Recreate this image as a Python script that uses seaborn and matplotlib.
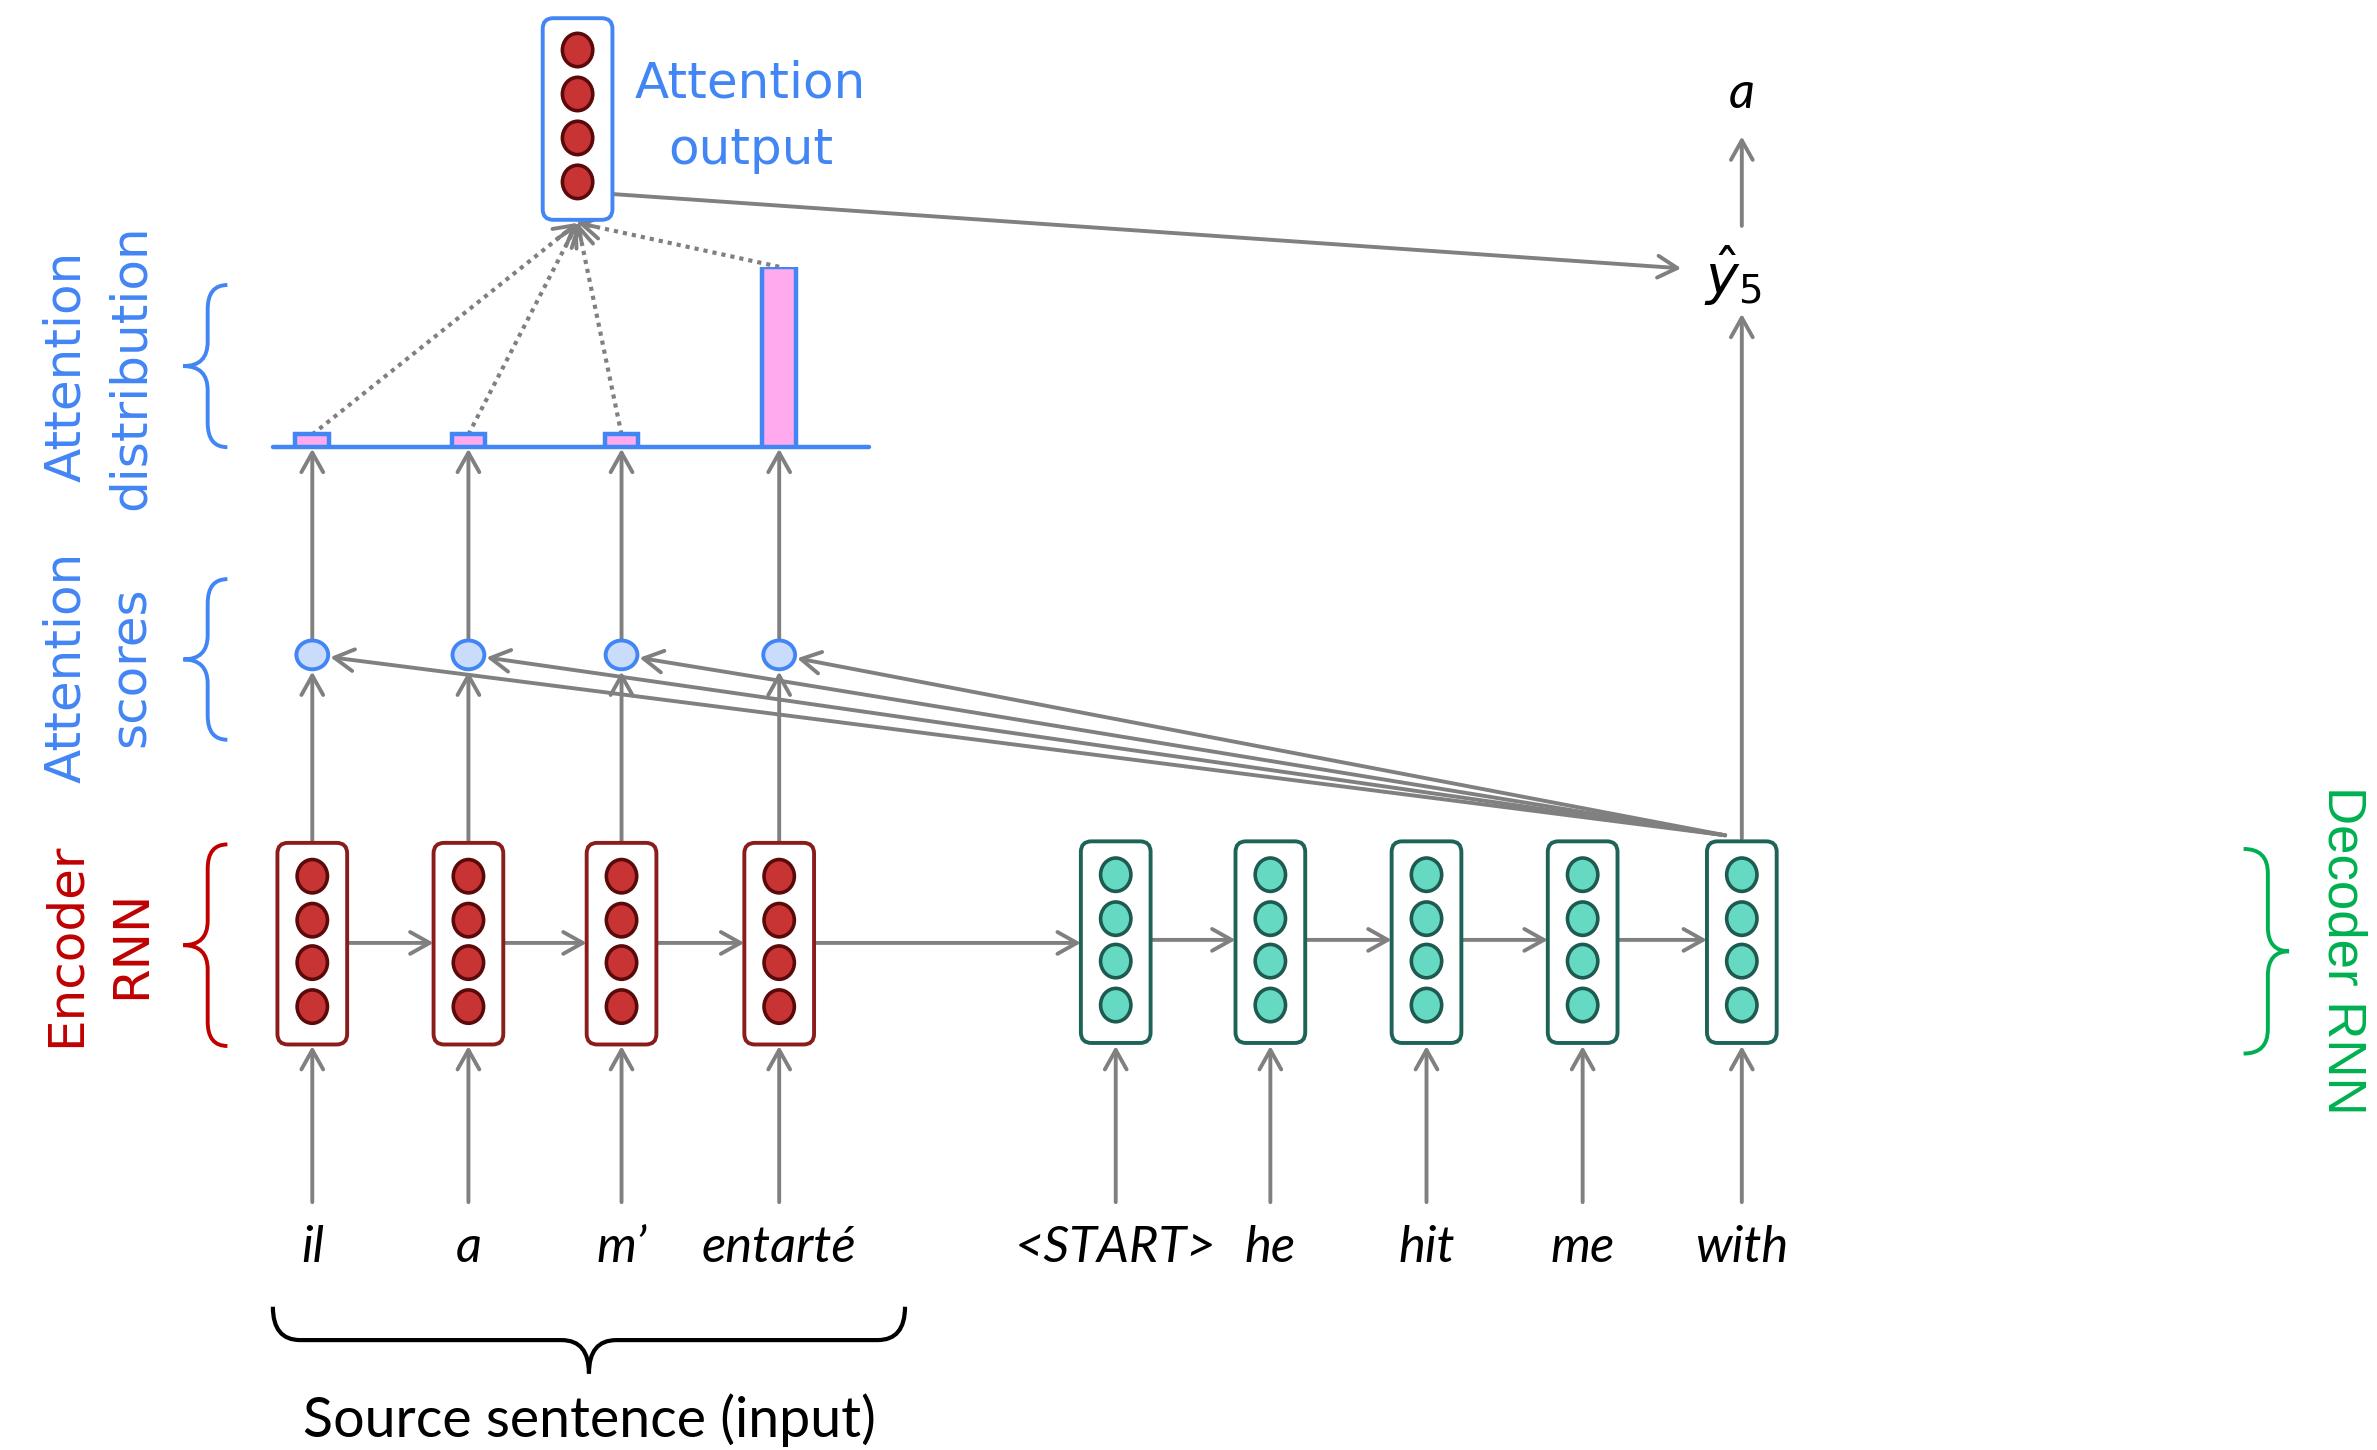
import matplotlib.pyplot as plt
import matplotlib.patches as mpatches
from matplotlib.path import Path
import seaborn as sns
import pandas as pd
import numpy as np

# data
source_tokens = ["il", "a", "m\u2019", "entart\u00e9"]
target_tokens = ["<START>", "he", "hit", "me", "with"]
attention_weights = [0.06, 0.06, 0.06, 0.85]
predicted_word = "a"
n_hidden = 4

# layout (drawing units, figure is W x H)
W = 1568
H = W * 1450 / 2377
enc_x = [206, 309, 410, 514]
dec_x = [736, 838, 941, 1044, 1149]
box_w, box_top, box_bot = 46, 556, 689
neuron_y = [578, 607, 635, 664]
score_y = 432
base_y = 295
bar_top = 176
out_x, out_top, out_bot = 381, 12, 145
out_neuron_y = [33, 62, 91, 120]
token_y = 823
input_y = 793
yhat_x, yhat_y = 1143, 182

GRAY = "#808080"
BLUE = "#4285f4"
RED_TXT = "#c00000"
GREEN_TXT = "#00b050"
ENC_EDGE, ENC_FILL, ENC_NEU_EDGE = "#8b1c1c", "#c83434", "#5a0a0a"
DEC_EDGE, DEC_FILL, DEC_NEU_EDGE = "#1e6358", "#66d9c2", "#1e5a50"
PINK = "#ffaaee"
SCORE_FILL = "#c9dcfb"

sns.set_theme(style="white")
plt.rcParams['font.family'] = ['DejaVu Sans']

fig = plt.figure(figsize=(23.77, 14.5), dpi=100)
ax = fig.add_axes([0, 0, 1, 1])
ax.set_xlim(0, W)
ax.set_ylim(H, 0)
ax.axis('off')


def arrow(x0, y0, x1, y1, lw=2.8):
    ax.annotate('', xy=(x1, y1), xytext=(x0, y0),
                arrowprops=dict(arrowstyle='->,head_length=0.5,head_width=0.28',
                                color=GRAY, lw=lw, shrinkA=0, shrinkB=0,
                                mutation_scale=28), zorder=2)


def cell(x, edge, fill, nedge, top, bot, ny):
    ax.add_patch(mpatches.FancyBboxPatch((x - box_w / 2, top), box_w, bot - top,
                                         boxstyle='round,pad=0,rounding_size=7',
                                         fc='white', ec=edge, lw=2.8, zorder=3))
    for y in ny[:n_hidden]:
        ax.add_patch(mpatches.Ellipse((x, y), 20, 22, fc=fill, ec=nedge, lw=2.6, zorder=4))


def vbrace(xs, y0, y1, e, t, r, color, lw=2.8):
    ym = (y0 + y1) / 2
    verts = [(xs + e, y0), (xs, y0), (xs, y0 + r), (xs, ym - r), (xs, ym), (xs - t, ym),
             (xs, ym), (xs, ym + r), (xs, y1 - r), (xs, y1), (xs + e, y1)]
    codes = [Path.MOVETO, Path.CURVE3, Path.CURVE3, Path.LINETO, Path.CURVE3, Path.CURVE3,
             Path.CURVE3, Path.CURVE3, Path.LINETO, Path.CURVE3, Path.CURVE3]
    ax.add_patch(mpatches.PathPatch(Path(verts, codes), fc='none', ec=color, lw=lw))


def hbrace(x0, x1, ys, e, t, r, color, lw=3.0):
    xm = (x0 + x1) / 2
    verts = [(x0, ys - e), (x0, ys), (x0 + r, ys), (xm - r, ys), (xm, ys), (xm, ys + t),
             (xm, ys), (xm + r, ys), (x1 - r, ys), (x1, ys), (x1, ys - e)]
    codes = [Path.MOVETO, Path.CURVE3, Path.CURVE3, Path.LINETO, Path.CURVE3, Path.CURVE3,
             Path.CURVE3, Path.CURVE3, Path.LINETO, Path.CURVE3, Path.CURVE3]
    ax.add_patch(mpatches.PathPatch(Path(verts, codes), fc='none', ec=color, lw=lw))


# encoder / decoder cells
for x in enc_x:
    cell(x, ENC_EDGE, ENC_FILL, ENC_NEU_EDGE, box_top, box_bot, neuron_y)
for x in dec_x:
    cell(x, DEC_EDGE, DEC_FILL, DEC_NEU_EDGE, box_top - 1, box_bot - 1, [y - 1 for y in neuron_y])

# recurrent arrows
all_x = enc_x + dec_x
for a, b in zip(all_x[:-1], all_x[1:]):
    yy = 622 if b in enc_x or a == enc_x[-1] else 620
    arrow(a + box_w / 2, yy, b - box_w / 2, yy)

# input arrows and tokens
tok_font = dict(family='Lato', style='italic', fontsize=36.5, color='black', ha='center', va='center')
for x, tok in zip(all_x, source_tokens + target_tokens):
    arrow(x, input_y, x, box_bot + 1)
    ax.text(x, token_y, tok, **tok_font)

# attention scores
for x in enc_x:
    arrow(x, box_top, x, score_y + 11)
    arrow(x, score_y - 11, x, base_y + 1)
    ax.add_patch(mpatches.Ellipse((x, score_y), 21, 19, fc=SCORE_FILL, ec=BLUE, lw=2.8, zorder=4))

src = np.array([1138.0, 551.0])
for x in enc_x:
    c = np.array([x, score_y], dtype=float)
    d = src - c
    end = c + d / np.linalg.norm(d) * 12
    arrow(src[0], src[1], end[0], end[1])

# attention distribution (bars drawn with seaborn in an overlay axes)
bx0, bx1 = 180, 573
bax = fig.add_axes([bx0 / W, 1 - base_y / H, (bx1 - bx0) / W, (base_y - bar_top) / H])
bar_df = pd.DataFrame({"pos": enc_x, "weight": attention_weights})
sns.barplot(data=bar_df, x="pos", y="weight", native_scale=True, ax=bax, width=0.22,
            color=PINK, saturation=1, edgecolor=BLUE, linewidth=3.2)
bax.set_xlim(bx0, bx1)
bax.set_ylim(0, max(attention_weights))
bax.patch.set_alpha(0)
bax.axis('off')
ax.plot([bx0, bx1], [base_y, base_y], color=BLUE, lw=3.2, zorder=5)

# dotted lines to attention output
scale = (base_y - bar_top) / max(attention_weights)
tip = np.array([out_x, out_bot + 2.0])
for x, w in zip(enc_x, attention_weights):
    p = np.array([x, base_y - w * scale])
    ax.plot([p[0], tip[0]], [p[1], tip[1]], color=GRAY, lw=3.0, ls=(0, (1, 1.2)), zorder=1)
    d = tip - p
    q = tip - d / np.linalg.norm(d) * 12
    arrow(q[0], q[1], tip[0], tip[1])

# attention output
ax.add_patch(mpatches.FancyBboxPatch((out_x - 23, out_top), 46, out_bot - out_top,
                                     boxstyle='round,pad=0,rounding_size=7',
                                     fc='white', ec=BLUE, lw=2.8, zorder=3))
for y in out_neuron_y:
    ax.add_patch(mpatches.Ellipse((out_x, y), 20, 22, fc=ENC_FILL, ec=ENC_NEU_EDGE, lw=2.6, zorder=4))
ax.text(495, 77, "Attention\noutput", color=BLUE, fontsize=36, ha='center', va='center',
        linespacing=1.5, family='DejaVu Sans')

# output prediction
arrow(out_x + 23, 128, yhat_x - 34, 177)
arrow(dec_x[-1], box_top - 3, dec_x[-1], yhat_y + 25)
arrow(dec_x[-1], yhat_y - 33, dec_x[-1], 90)
ax.text(yhat_x, yhat_y, r'$\hat{y}_5$', fontsize=40, ha='center', va='center', color='black')
ax.text(dec_x[-1], 62, predicted_word, **tok_font)

# side labels and braces
lab = dict(fontsize=36, ha='center', va='center', rotation=90, linespacing=1.45, family='DejaVu Sans')
ax.text(65, 242, "Attention\ndistribution", color=BLUE, **lab)
ax.text(65, 440, "Attention\nscores", color=BLUE, **lab)
ax.text(65, 623, "Encoder\nRNN", color=RED_TXT, **lab)
vbrace(137, 188, 295, 13, 16, 16, BLUE)
vbrace(137, 382, 488, 13, 16, 16, BLUE)
vbrace(137, 557, 690, 13, 16, 16, RED_TXT)
vbrace(1496, 560, 695, -16, -14, 16, GREEN_TXT)
ax.text(1545, 627, "Decoder RNN", color=GREEN_TXT, fontsize=38, rotation=-90,
        ha='center', va='center', family='Liberation Sans')

hbrace(180, 597, 884, 22, 22, 18, 'black')
ax.text(389, 937, "Source sentence (input)", family='Lato', fontsize=40, ha='center',
        va='center', color='black')

fig.savefig("out.png", dpi=100)
